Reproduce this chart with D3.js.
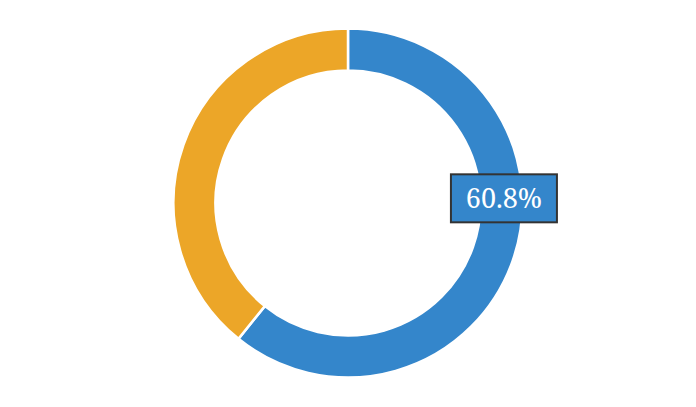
<!DOCTYPE html>
<html>
<head>
<meta charset="utf-8">
<script src="https://cdn.jsdelivr.net/npm/d3@7"></script>
<style>
  body { margin: 0; background: #fff; }
</style>
</head>
<body>
<div id="chart"></div>
<script>
// data
var labels = ["A", "B"];
var values = [60.8, 39.2];
var colors = ["#3486cb", "#eca628"];

var svgWidth = 696;
var svgHeight = 407;

var svg = d3.select("#chart")
  .append("svg")
  .attr("width", svgWidth)
  .attr("height", svgHeight);

var cx = 348, cy = 203;
var outerR = 174.5, innerR = 132.5;

var chartGroup = svg.append("g")
  .attr("transform", `translate(${cx}, ${cy})`);

var pie = d3.pie().sort(null).value(d => d);
var arcs = pie(values);

var arc = d3.arc()
  .innerRadius(innerR)
  .outerRadius(outerR);

chartGroup.selectAll("path")
  .data(arcs)
  .enter()
  .append("path")
  .attr("d", arc)
  .attr("fill", (d, i) => colors[i])
  .attr("stroke", "#fff")
  .attr("stroke-width", 2.5);

// label for the first slice
var labelAngle = Math.PI / 2 - 0.03;
var labelR = 156;
var lx = labelR * Math.sin(labelAngle);
var ly = -labelR * Math.cos(labelAngle);

var labelG = chartGroup.append("g")
  .attr("transform", `translate(${lx}, ${ly})`);

var boxW = 106, boxH = 48;
labelG.append("rect")
  .attr("x", -boxW / 2)
  .attr("y", -boxH / 2)
  .attr("width", boxW)
  .attr("height", boxH)
  .attr("fill", colors[0])
  .attr("stroke", "#333")
  .attr("stroke-width", 2);

labelG.append("text")
  .attr("text-anchor", "middle")
  .attr("dy", "0.36em")
  .attr("fill", "#fff")
  .style("font-family", "'Noto Serif', serif")
  .style("font-size", "27px")
  .text(values[0].toFixed(1) + "%");
</script>
</body>
</html>
